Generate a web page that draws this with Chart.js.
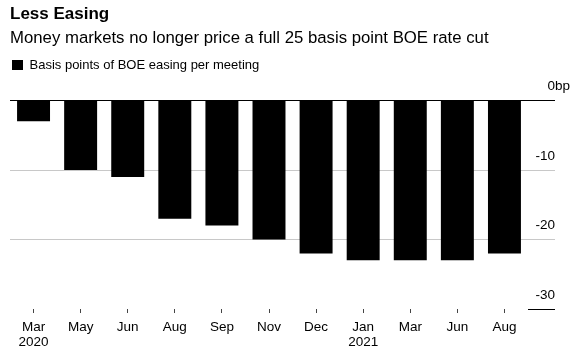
<!DOCTYPE html>
<html>
<head>
<meta charset="utf-8">
<script src="https://cdn.jsdelivr.net/npm/chart.js@4.4.0/dist/chart.umd.min.js"></script>
<style>
  html, body { margin: 0; padding: 0; background: #fff; }
  #wrap { width: 585px; height: 360px; }
</style>
</head>
<body>
<div id="wrap"><canvas id="grafico"></canvas></div>
<script>
// Dados (pontos-base de corte por reunião do BOE)
const meses = ['Mar', 'May', 'Jun', 'Aug', 'Sep', 'Nov', 'Dec', 'Jan', 'Mar', 'Jun', 'Aug'];
const anos = ['2020', '', '', '', '', '', '', '2021', '', '', ''];
const afrouxamento = [-3, -10, -11, -17, -18, -20, -22, -23, -23, -23, -22];
const ticksY = [0, -10, -20, -30];

const fonte = 'Liberation Sans, Arial, sans-serif';
Chart.defaults.font.family = fonte;
Chart.defaults.color = '#000';

const rotulos = meses.map((m, i) => anos[i] ? [m, anos[i]] : m);

// escreve o "bp" depois do zero, como no original
const sufixoBp = {
    id: 'sufixoBp',
    afterDraw(chart) {
        const eixo = chart.scales.y;
        const ctx = chart.ctx;
        ctx.save();
        ctx.font = '13.5px ' + fonte;
        ctx.fillStyle = '#000';
        ctx.textAlign = 'left';
        ctx.textBaseline = 'middle';
        ctx.fillText('bp', eixo.left + 27, eixo.getPixelForValue(0) - 14);
        ctx.restore();
    }
};

// mais espaço entre a legenda e a área do gráfico
const espacoLegenda = {
    id: 'espacoLegenda',
    beforeInit(chart) {
        const fitOriginal = chart.legend.fit;
        chart.legend.fit = function () {
            fitOriginal.bind(chart.legend)();
            this.height += 19;
        };
    }
};

new Chart(document.getElementById('grafico').getContext('2d'), {
    type: 'bar',
    data: {
        labels: rotulos,
        datasets: [{
            label: 'Basis points of BOE easing per meeting',
            data: afrouxamento,
            backgroundColor: '#000',
            borderWidth: 0,
            barPercentage: 0.7,
            categoryPercentage: 1
        }]
    },
    options: {
        responsive: true,
        maintainAspectRatio: false,
        animation: false,
        layout: { padding: { left: 10, right: 30, top: 0, bottom: 3 } },
        plugins: {
            title: {
                display: true,
                text: 'Less Easing',
                align: 'start',
                color: '#000',
                font: { size: 17, weight: 'bold' },
                padding: { top: 4, bottom: 4 }
            },
            subtitle: {
                display: true,
                text: 'Money markets no longer price a full 25 basis point BOE rate cut',
                align: 'start',
                color: '#000',
                font: { size: 16.75 },
                padding: { top: 0, bottom: 8 }
            },
            legend: {
                align: 'start',
                labels: {
                    boxWidth: 11,
                    boxHeight: 10,
                    padding: 2,
                    color: '#000',
                    font: { size: 13 }
                }
            },
            tooltip: { enabled: false }
        },
        scales: {
            x: {
                offset: true,
                border: { display: false },
                grid: {
                    display: true,
                    offset: false,
                    drawOnChartArea: false,
                    tickLength: 4,
                    tickColor: '#444'
                },
                ticks: {
                    padding: 7,
                    maxRotation: 0,
                    autoSkip: false,
                    color: '#000',
                    font: { size: 13.5, lineHeight: 1.11 }
                }
            },
            y: {
                position: 'right',
                min: -30,
                max: 0,
                border: { display: false },
                afterBuildTicks: axis => { axis.ticks = ticksY.map(v => ({ value: v })); },
                afterFit: axis => { axis.width = 27; },
                grid: {
                    tickLength: 27,
                    lineWidth: 1,
                    color: ctx => ctx.tick.value === 0 ? '#000' : (ctx.tick.value === -30 ? 'rgba(0,0,0,0)' : '#c8c8c8'),
                    tickColor: ctx => ctx.tick.value === 0 || ctx.tick.value === -30 ? '#000' : '#c8c8c8'
                },
                ticks: {
                    crossAlign: 'far',
                    padding: -20,
                    labelOffset: -14,
                    color: '#000',
                    font: { size: 13.5 },
                    callback: v => String(v)
                }
            }
        }
    },
    plugins: [sufixoBp, espacoLegenda]
});
</script>
</body>
</html>
